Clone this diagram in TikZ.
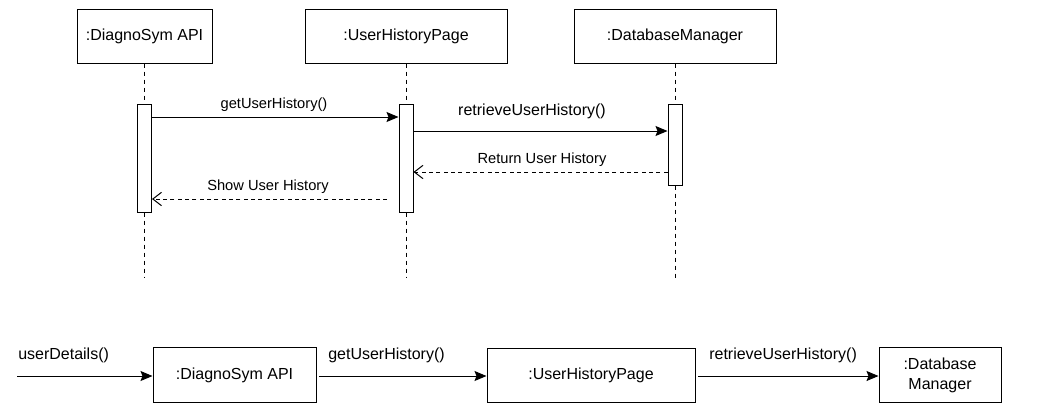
\documentclass[tikz,border=0pt]{standalone}
\usepackage{fontspec}
\setmainfont{Liberation Sans}
\usetikzlibrary{arrows.meta}
\begin{document}
\begin{tikzpicture}[x=0.75pt,y=-0.75pt,
  objbox/.style={draw,line width=0.75pt,inner sep=0pt,font=\fontsize{12}{15}\selectfont,align=center},
  actbox/.style={draw,line width=0.75pt,fill=white,inner sep=0pt,minimum width=10.5pt},
  lifeline/.style={line width=0.75pt,dash pattern=on 3pt off 3pt},
  msg/.style={line width=0.75pt,-{Stealth[length=9pt,width=7.5pt,inset=1.5pt]}},
  ret/.style={line width=0.75pt,dash pattern=on 3pt off 2.5pt,-{Straight Barb[length=6.5pt,width=10pt,line width=0.75pt]}},
  biglbl/.style={inner sep=0pt,font=\fontsize{12}{14.4}\selectfont},
  midlbl/.style={inner sep=0pt,font=\fontsize{11}{13}\selectfont}]
\useasboundingbox (0,0) rectangle (1037,405);
% top sequence diagram
\node[objbox,minimum width=101.25pt,minimum height=40.5pt] (t1) at (144.5,36) {:DiagnoSym API};
\node[objbox,minimum width=151.5pt,minimum height=40.5pt] (t2) at (406,36) {:UserHistoryPage};
\node[objbox,minimum width=151.5pt,minimum height=40.5pt] (t3) at (675,36) {:DatabaseManager};
\node[actbox,minimum height=81pt] (a1) at (144.5,158) {};
\node[actbox,minimum height=81pt] (a2) at (406,158) {};
\node[actbox,minimum height=60.75pt] (a3) at (675,144.5) {};
\coordinate (e1) at (144.5,278);
\coordinate (e2) at (406,278);
\coordinate (e3) at (675,278);
\draw[lifeline] (t1.south) -- (a1.north);
\draw[lifeline] (a1.south) -- (e1);
\draw[lifeline] (t2.south) -- (a2.north);
\draw[lifeline] (a2.south) -- (e2);
\draw[lifeline] (t3.south) -- (a3.north);
\draw[lifeline] (a3.south) -- (e3);
\draw[msg] (a1.east |- 0,117) -- (a2.west |- 0,117);
\node[midlbl] (l1) at (274,105) {getUserHistory()};
\draw[msg] (a2.east |- 0,131) -- (a3.west |- 0,131);
\node[biglbl] (l2) at (532,111) {retrieveUserHistory()};
\draw[ret] (a3.west |- 0,172) -- (a2.east |- 0,172);
\node[midlbl] (l3) at (542,160) {Return User History};
\coordinate (s0) at (387,199);
\draw[ret] (s0) -- (a1.east |- 0,199);
\node[midlbl] (l4) at (268,187) {Show User History};
% bottom communication row
\node[objbox,minimum width=122.25pt,minimum height=41.25pt] (b1) at (234.5,375) {:DiagnoSym API};
\node[objbox,minimum width=156pt,minimum height=40.5pt] (b2) at (591,375) {:UserHistoryPage};
\node[objbox,minimum width=91.5pt,minimum height=41.25pt] (b3) at (940,375) {:Database\\Manager};
\coordinate (in0) at (17,376);
\draw[msg] (in0) -- (b1.west |- 0,376);
\node[biglbl,anchor=west] (m0) at (18,355) {userDetails()};
\draw[msg,shorten <=2pt] (b1.east |- 0,376) -- (b2.west |- 0,376);
\node[biglbl,anchor=west] (m1) at (328,355) {getUserHistory()};
\draw[msg,shorten <=2pt] (b2.east |- 0,376) -- (b3.west |- 0,376);
\node[biglbl,anchor=west] (m2) at (709,355) {retrieveUserHistory()};
\end{tikzpicture}
\end{document}
